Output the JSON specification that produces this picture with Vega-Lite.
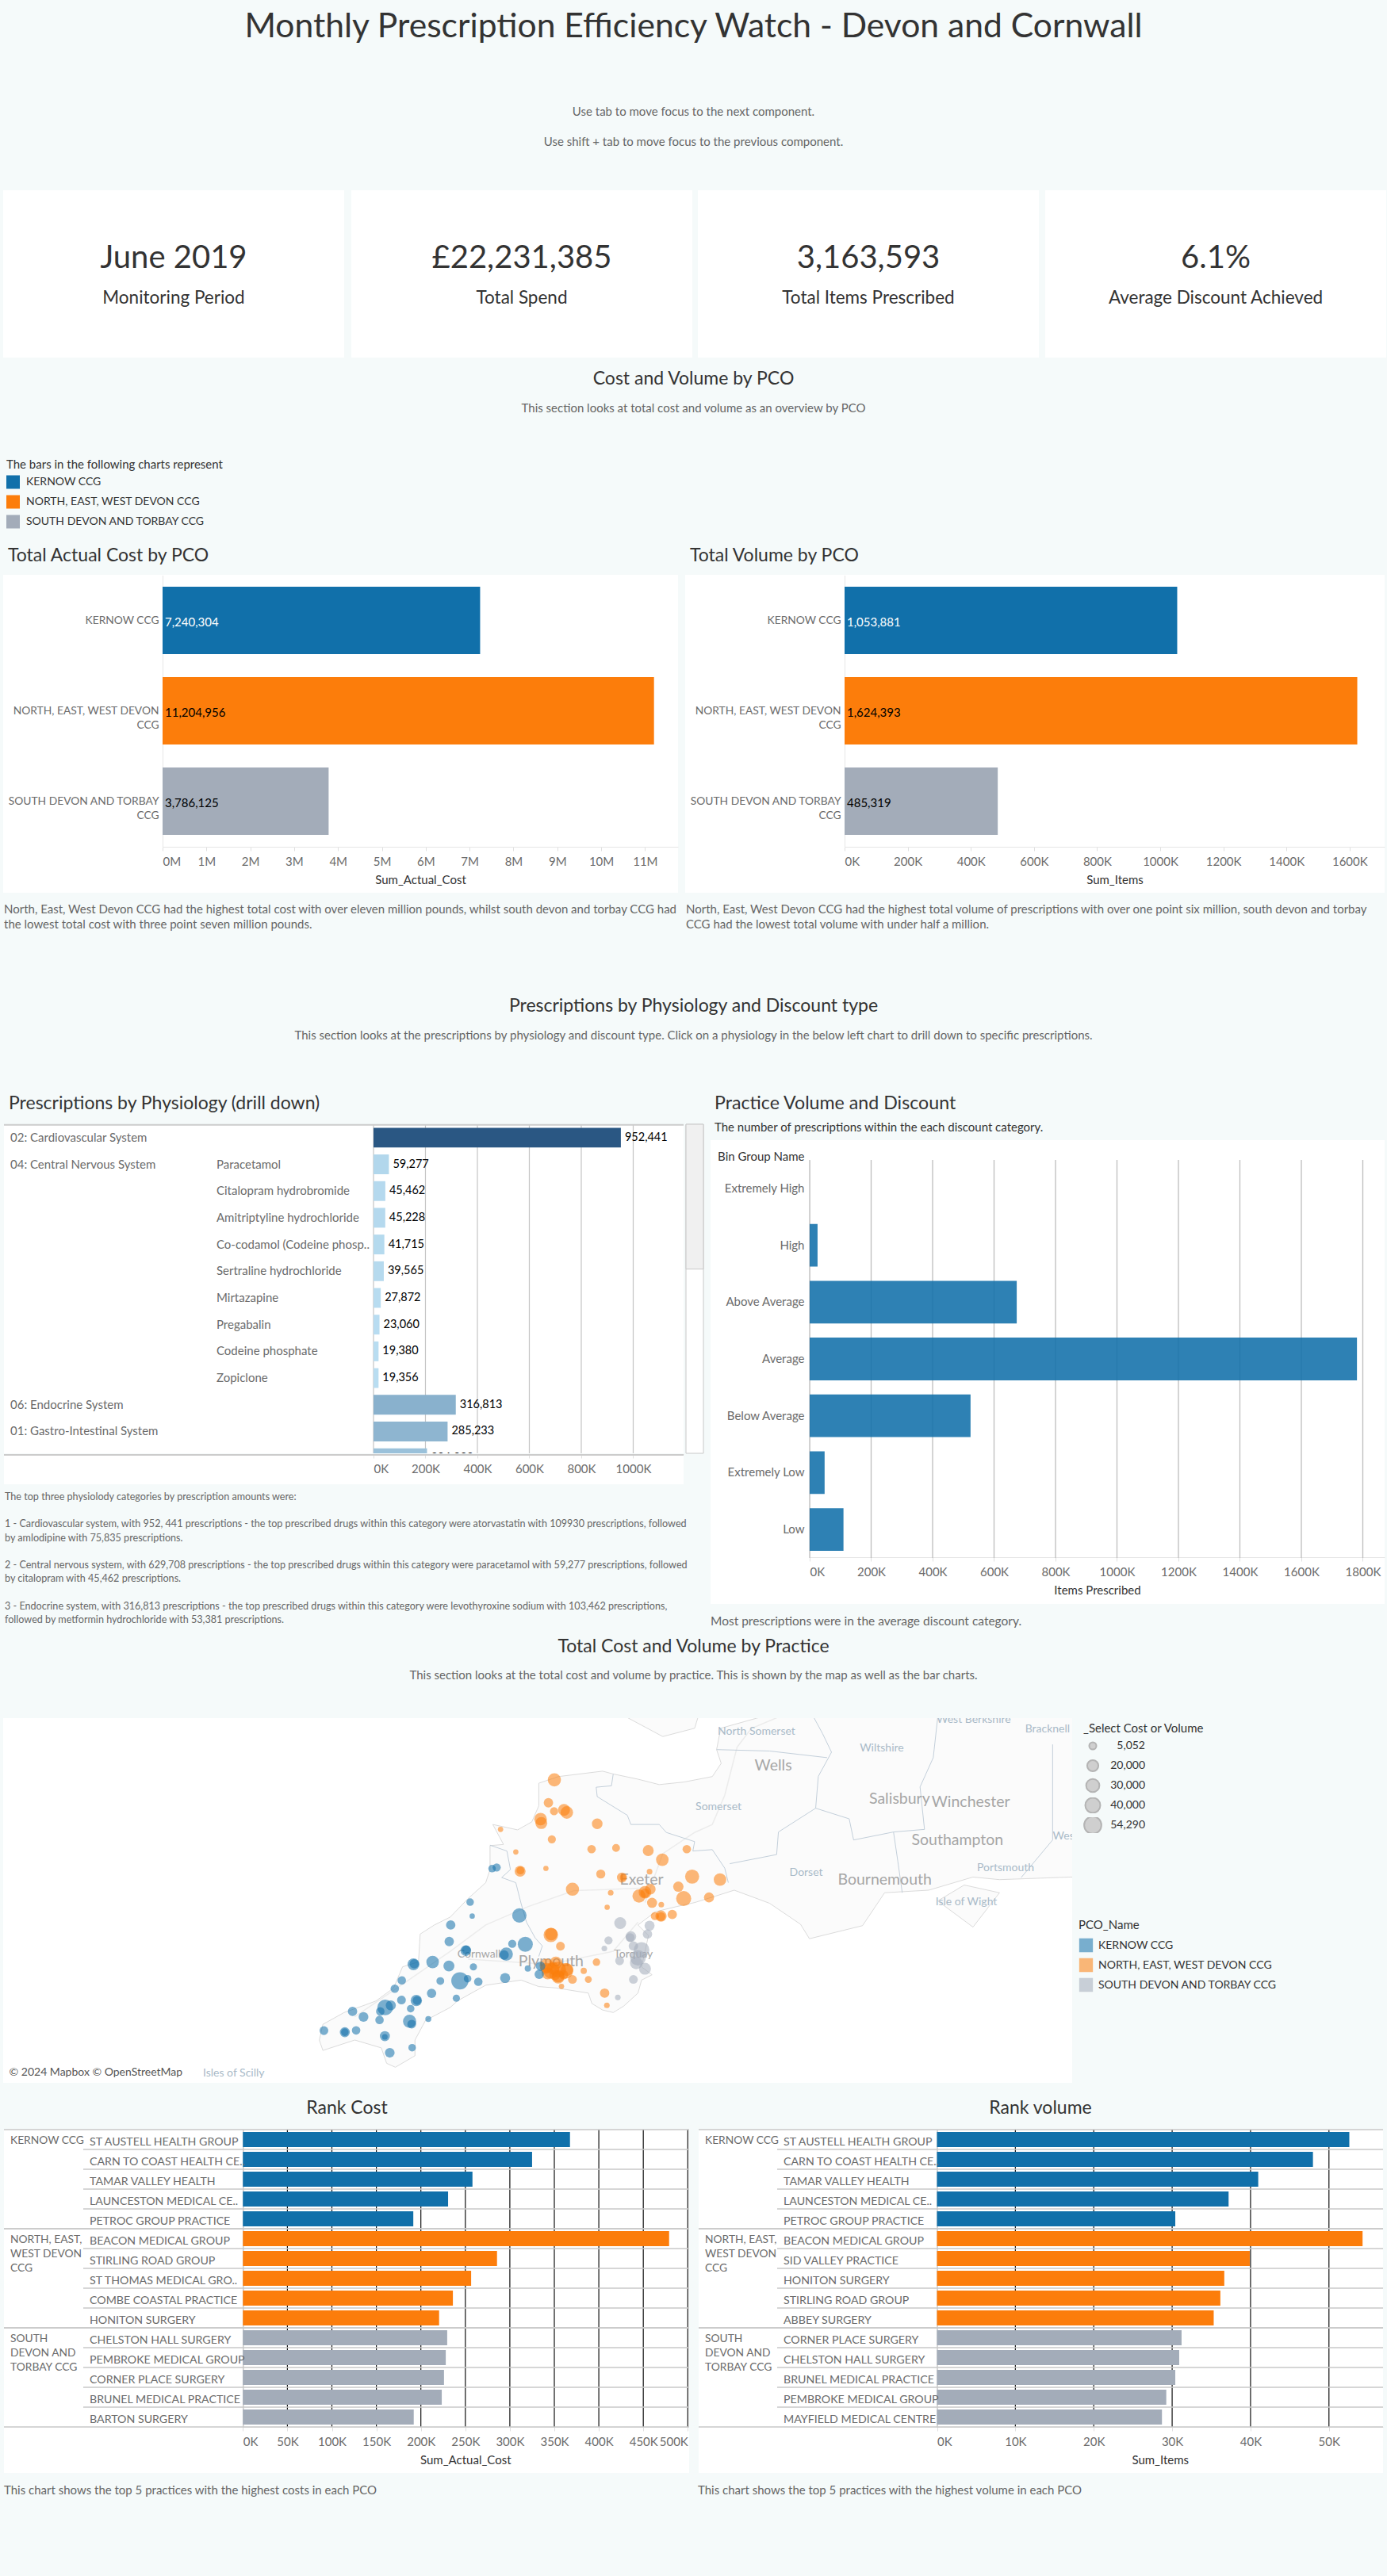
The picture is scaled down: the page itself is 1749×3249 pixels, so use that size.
{"$schema":"https://vega.github.io/schema/vega-lite/v6.json","padding":0,"background":"#f5fafa","spacing":0,"bounds":"full","resolve":{"scale":{"size":"independent"},"legend":{"size":"independent"}},
"config":{"font":"Lato","view":{"stroke":null},"concat":{"spacing":0},"range":{"category":["#1170aa","#fc7d0b","#a3acb9"]},"axis":{"labelFont":"Lato","titleFont":"Lato","labelColor":"#6b6b6b","titleColor":"#333333","titleFontWeight":"normal","labelFontSize":15,"titleFontSize":15,"tickColor":"#e0e0e0","domainColor":"#e6e6e6","labelOverlap":false,"labelFlush":true,"grid":false},"legend":{"labelFont":"Lato","titleFont":"Lato"}},
"datasets":{
"pco":[{"pco":"KERNOW CCG","cost":7240304,"items":1053881},{"pco":"NORTH, EAST, WEST DEVON CCG","cost":11204956,"items":1624393},{"pco":"SOUTH DEVON AND TORBAY CCG","cost":3786125,"items":485319}],
"physio":[{"row":"02: Cardiovascular System","value":952441},{"row":"Paracetamol","value":59277},{"row":"Citalopram hydrobromide","value":45462},{"row":"Amitriptyline hydrochloride","value":45228},{"row":"Co-codamol (Codeine phosp..","value":41715},{"row":"Sertraline hydrochloride","value":39565},{"row":"Mirtazapine","value":27872},{"row":"Pregabalin","value":23060},{"row":"Codeine phosphate","value":19380},{"row":"Zopiclone","value":19356},{"row":"06: Endocrine System","value":316813},{"row":"01: Gastro-Intestinal System","value":285233},{"row":"03: Respiratory System","value":206000}],
"physioLabels":[{"row":"02: Cardiovascular System","col":"group","label":"02: Cardiovascular System"},{"row":"Paracetamol","col":"group","label":"04: Central Nervous System"},{"row":"06: Endocrine System","col":"group","label":"06: Endocrine System"},{"row":"01: Gastro-Intestinal System","col":"group","label":"01: Gastro-Intestinal System"},{"row":"03: Respiratory System","col":"group","label":"03: Respiratory System"},{"row":"Paracetamol","col":"drug","label":"Paracetamol"},{"row":"Citalopram hydrobromide","col":"drug","label":"Citalopram hydrobromide"},{"row":"Amitriptyline hydrochloride","col":"drug","label":"Amitriptyline hydrochloride"},{"row":"Co-codamol (Codeine phosp..","col":"drug","label":"Co-codamol (Codeine phosp.."},{"row":"Sertraline hydrochloride","col":"drug","label":"Sertraline hydrochloride"},{"row":"Mirtazapine","col":"drug","label":"Mirtazapine"},{"row":"Pregabalin","col":"drug","label":"Pregabalin"},{"row":"Codeine phosphate","col":"drug","label":"Codeine phosphate"},{"row":"Zopiclone","col":"drug","label":"Zopiclone"}],
"physioTicks":[{"tick":0},{"tick":200000},{"tick":400000},{"tick":600000},{"tick":800000},{"tick":1000000}],
"binTicks":[{"tick":0},{"tick":200000},{"tick":400000},{"tick":600000},{"tick":800000},{"tick":1000000},{"tick":1200000},{"tick":1400000},{"tick":1600000},{"tick":1800000}],
"costTicks":[{"tick":50000},{"tick":100000},{"tick":150000},{"tick":200000},{"tick":250000},{"tick":300000},{"tick":350000},{"tick":400000},{"tick":450000},{"tick":500000}],
"itemTicks":[{"tick":10000},{"tick":20000},{"tick":30000},{"tick":40000},{"tick":50000}],
"rankCost":[{"pco":"KERNOW CCG","rank":1,"practice":"ST AUSTELL HEALTH GROUP","value":367600},{"pco":"KERNOW CCG","rank":2,"practice":"CARN TO COAST HEALTH CE..","value":325000},{"pco":"KERNOW CCG","rank":3,"practice":"TAMAR VALLEY HEALTH","value":258000},{"pco":"KERNOW CCG","rank":4,"practice":"LAUNCESTON MEDICAL CE..","value":230600},{"pco":"KERNOW CCG","rank":5,"practice":"PETROC GROUP PRACTICE","value":191500},{"pco":"NORTH, EAST, WEST DEVON CCG","rank":1,"practice":"BEACON MEDICAL GROUP","value":479000},{"pco":"NORTH, EAST, WEST DEVON CCG","rank":2,"practice":"STIRLING ROAD GROUP","value":285600},{"pco":"NORTH, EAST, WEST DEVON CCG","rank":3,"practice":"ST THOMAS MEDICAL GRO..","value":256500},{"pco":"NORTH, EAST, WEST DEVON CCG","rank":4,"practice":"COMBE COASTAL PRACTICE","value":236000},{"pco":"NORTH, EAST, WEST DEVON CCG","rank":5,"practice":"HONITON SURGERY","value":220500},{"pco":"SOUTH DEVON AND TORBAY CCG","rank":1,"practice":"CHELSTON HALL SURGERY","value":229600},{"pco":"SOUTH DEVON AND TORBAY CCG","rank":2,"practice":"PEMBROKE MEDICAL GROUP","value":228000},{"pco":"SOUTH DEVON AND TORBAY CCG","rank":3,"practice":"CORNER PLACE SURGERY","value":226000},{"pco":"SOUTH DEVON AND TORBAY CCG","rank":4,"practice":"BRUNEL MEDICAL PRACTICE","value":223500},{"pco":"SOUTH DEVON AND TORBAY CCG","rank":5,"practice":"BARTON SURGERY","value":192000}],
"rankItems":[{"pco":"KERNOW CCG","rank":1,"practice":"ST AUSTELL HEALTH GROUP","value":52600},{"pco":"KERNOW CCG","rank":2,"practice":"CARN TO COAST HEALTH CE..","value":47960},{"pco":"KERNOW CCG","rank":3,"practice":"TAMAR VALLEY HEALTH","value":40980},{"pco":"KERNOW CCG","rank":4,"practice":"LAUNCESTON MEDICAL CE..","value":37200},{"pco":"KERNOW CCG","rank":5,"practice":"PETROC GROUP PRACTICE","value":30400},{"pco":"NORTH, EAST, WEST DEVON CCG","rank":1,"practice":"BEACON MEDICAL GROUP","value":54290},{"pco":"NORTH, EAST, WEST DEVON CCG","rank":2,"practice":"SID VALLEY PRACTICE","value":39900},{"pco":"NORTH, EAST, WEST DEVON CCG","rank":3,"practice":"HONITON SURGERY","value":36650},{"pco":"NORTH, EAST, WEST DEVON CCG","rank":4,"practice":"STIRLING ROAD GROUP","value":36150},{"pco":"NORTH, EAST, WEST DEVON CCG","rank":5,"practice":"ABBEY SURGERY","value":35300},{"pco":"SOUTH DEVON AND TORBAY CCG","rank":1,"practice":"CORNER PLACE SURGERY","value":31200},{"pco":"SOUTH DEVON AND TORBAY CCG","rank":2,"practice":"CHELSTON HALL SURGERY","value":30900},{"pco":"SOUTH DEVON AND TORBAY CCG","rank":3,"practice":"BRUNEL MEDICAL PRACTICE","value":30400},{"pco":"SOUTH DEVON AND TORBAY CCG","rank":4,"practice":"PEMBROKE MEDICAL GROUP","value":29250},{"pco":"SOUTH DEVON AND TORBAY CCG","rank":5,"practice":"MAYFIELD MEDICAL CENTRE","value":28700}],
"practices":[
{"pco":"NORTH, EAST, WEST DEVON CCG","lon":-4.118,"lat":51.145,"value":29500},{"pco":"NORTH, EAST, WEST DEVON CCG","lon":-4.158,"lat":51.048,"value":12500},{"pco":"NORTH, EAST, WEST DEVON CCG","lon":-4.12,"lat":51.012,"value":8100},{"pco":"NORTH, EAST, WEST DEVON CCG","lon":-4.053,"lat":51.018,"value":23200},{"pco":"NORTH, EAST, WEST DEVON CCG","lon":-4.034,"lat":51.007,"value":26300},{"pco":"NORTH, EAST, WEST DEVON CCG","lon":-4.211,"lat":50.979,"value":26300},{"pco":"NORTH, EAST, WEST DEVON CCG","lon":-4.206,"lat":50.962,"value":23200},{"pco":"NORTH, EAST, WEST DEVON CCG","lon":-4.481,"lat":50.935,"value":500},{"pco":"NORTH, EAST, WEST DEVON CCG","lon":-4.135,"lat":50.893,"value":8100},{"pco":"NORTH, EAST, WEST DEVON CCG","lon":-3.829,"lat":50.959,"value":17600},{"pco":"NORTH, EAST, WEST DEVON CCG","lon":-3.867,"lat":50.851,"value":9200},{"pco":"NORTH, EAST, WEST DEVON CCG","lon":-3.702,"lat":50.856,"value":7100},{"pco":"NORTH, EAST, WEST DEVON CCG","lon":-3.485,"lat":50.845,"value":19000},{"pco":"NORTH, EAST, WEST DEVON CCG","lon":-4.378,"lat":50.839,"value":500},{"pco":"NORTH, EAST, WEST DEVON CCG","lon":-3.225,"lat":50.851,"value":9200},{"pco":"NORTH, EAST, WEST DEVON CCG","lon":-3.39,"lat":50.806,"value":26300},{"pco":"NORTH, EAST, WEST DEVON CCG","lon":-4.349,"lat":50.757,"value":19000},{"pco":"NORTH, EAST, WEST DEVON CCG","lon":-4.347,"lat":50.76,"value":7100},{"pco":"NORTH, EAST, WEST DEVON CCG","lon":-4.175,"lat":50.769,"value":500},{"pco":"NORTH, EAST, WEST DEVON CCG","lon":-3.805,"lat":50.745,"value":11400},{"pco":"NORTH, EAST, WEST DEVON CCG","lon":-3.476,"lat":50.755,"value":1200},{"pco":"NORTH, EAST, WEST DEVON CCG","lon":-3.662,"lat":50.73,"value":15000},{"pco":"NORTH, EAST, WEST DEVON CCG","lon":-3.655,"lat":50.73,"value":2700},{"pco":"NORTH, EAST, WEST DEVON CCG","lon":-3.189,"lat":50.734,"value":34700},{"pco":"NORTH, EAST, WEST DEVON CCG","lon":-3.001,"lat":50.721,"value":26300},{"pco":"NORTH, EAST, WEST DEVON CCG","lon":-3.282,"lat":50.691,"value":16250},{"pco":"NORTH, EAST, WEST DEVON CCG","lon":-3.996,"lat":50.68,"value":29500},{"pco":"NORTH, EAST, WEST DEVON CCG","lon":-3.738,"lat":50.665,"value":1200},{"pco":"NORTH, EAST, WEST DEVON CCG","lon":-3.507,"lat":50.667,"value":26300},{"pco":"NORTH, EAST, WEST DEVON CCG","lon":-3.547,"lat":50.651,"value":29500},{"pco":"NORTH, EAST, WEST DEVON CCG","lon":-3.471,"lat":50.68,"value":17600},{"pco":"NORTH, EAST, WEST DEVON CCG","lon":-3.507,"lat":50.663,"value":12500},{"pco":"NORTH, EAST, WEST DEVON CCG","lon":-3.246,"lat":50.64,"value":40200},{"pco":"NORTH, EAST, WEST DEVON CCG","lon":-3.075,"lat":50.645,"value":15000},{"pco":"NORTH, EAST, WEST DEVON CCG","lon":-3.459,"lat":50.622,"value":15000},{"pco":"NORTH, EAST, WEST DEVON CCG","lon":-3.397,"lat":50.614,"value":1200},{"pco":"NORTH, EAST, WEST DEVON CCG","lon":-3.762,"lat":50.603,"value":500},{"pco":"NORTH, EAST, WEST DEVON CCG","lon":-3.323,"lat":50.572,"value":12500},{"pco":"NORTH, EAST, WEST DEVON CCG","lon":-3.399,"lat":50.565,"value":20400},{"pco":"NORTH, EAST, WEST DEVON CCG","lon":-3.44,"lat":50.565,"value":8100},{"pco":"NORTH, EAST, WEST DEVON CCG","lon":-3.399,"lat":50.563,"value":10300},{"pco":"NORTH, EAST, WEST DEVON CCG","lon":-4.142,"lat":50.484,"value":36400},{"pco":"NORTH, EAST, WEST DEVON CCG","lon":-4.139,"lat":50.488,"value":26300},{"pco":"NORTH, EAST, WEST DEVON CCG","lon":-4.077,"lat":50.436,"value":10300},{"pco":"NORTH, EAST, WEST DEVON CCG","lon":-3.834,"lat":50.367,"value":6200},{"pco":"NORTH, EAST, WEST DEVON CCG","lon":-3.92,"lat":50.33,"value":2700},{"pco":"NORTH, EAST, WEST DEVON CCG","lon":-3.889,"lat":50.293,"value":4400},{"pco":"NORTH, EAST, WEST DEVON CCG","lon":-3.996,"lat":50.293,"value":10300},{"pco":"NORTH, EAST, WEST DEVON CCG","lon":-4.07,"lat":50.263,"value":500},{"pco":"NORTH, EAST, WEST DEVON CCG","lon":-3.779,"lat":50.234,"value":12500},{"pco":"NORTH, EAST, WEST DEVON CCG","lon":-3.764,"lat":50.181,"value":1200},
{"pco":"NORTH, EAST, WEST DEVON CCG","lon":-4.17,"lat":50.352,"value":34700},{"pco":"NORTH, EAST, WEST DEVON CCG","lon":-4.108,"lat":50.364,"value":26300},{"pco":"NORTH, EAST, WEST DEVON CCG","lon":-4.139,"lat":50.33,"value":44000},{"pco":"NORTH, EAST, WEST DEVON CCG","lon":-4.092,"lat":50.335,"value":44000},{"pco":"NORTH, EAST, WEST DEVON CCG","lon":-4.044,"lat":50.33,"value":44000},{"pco":"NORTH, EAST, WEST DEVON CCG","lon":-4.163,"lat":50.319,"value":23200},{"pco":"NORTH, EAST, WEST DEVON CCG","lon":-4.092,"lat":50.307,"value":26300},{"pco":"NORTH, EAST, WEST DEVON CCG","lon":-4.127,"lat":50.341,"value":26300},{"pco":"NORTH, EAST, WEST DEVON CCG","lon":-4.056,"lat":50.313,"value":12500},{"pco":"NORTH, EAST, WEST DEVON CCG","lon":-4.092,"lat":50.302,"value":26300},{"pco":"NORTH, EAST, WEST DEVON CCG","lon":-4.175,"lat":50.341,"value":19000},{"pco":"NORTH, EAST, WEST DEVON CCG","lon":-4.115,"lat":50.313,"value":19000},{"pco":"NORTH, EAST, WEST DEVON CCG","lon":-4.032,"lat":50.335,"value":26300},
{"pco":"SOUTH DEVON AND TORBAY CCG","lon":-3.674,"lat":50.535,"value":23200},{"pco":"SOUTH DEVON AND TORBAY CCG","lon":-3.476,"lat":50.524,"value":15000},{"pco":"SOUTH DEVON AND TORBAY CCG","lon":-3.49,"lat":50.488,"value":12500},{"pco":"SOUTH DEVON AND TORBAY CCG","lon":-3.602,"lat":50.477,"value":17600},{"pco":"SOUTH DEVON AND TORBAY CCG","lon":-3.607,"lat":50.473,"value":10300},{"pco":"SOUTH DEVON AND TORBAY CCG","lon":-3.753,"lat":50.461,"value":8100},{"pco":"SOUTH DEVON AND TORBAY CCG","lon":-3.781,"lat":50.426,"value":1200},{"pco":"SOUTH DEVON AND TORBAY CCG","lon":-3.585,"lat":50.437,"value":12500},{"pco":"SOUTH DEVON AND TORBAY CCG","lon":-3.53,"lat":50.42,"value":44000},{"pco":"SOUTH DEVON AND TORBAY CCG","lon":-3.554,"lat":50.386,"value":44000},{"pco":"SOUTH DEVON AND TORBAY CCG","lon":-3.566,"lat":50.364,"value":26300},{"pco":"SOUTH DEVON AND TORBAY CCG","lon":-3.678,"lat":50.373,"value":10300},{"pco":"SOUTH DEVON AND TORBAY CCG","lon":-3.507,"lat":50.339,"value":23200},{"pco":"SOUTH DEVON AND TORBAY CCG","lon":-3.585,"lat":50.293,"value":10300},{"pco":"SOUTH DEVON AND TORBAY CCG","lon":-3.69,"lat":50.215,"value":1200},
{"pco":"KERNOW CCG","lon":-5.672,"lat":50.072,"value":10300},{"pco":"KERNOW CCG","lon":-5.531,"lat":50.065,"value":15000},{"pco":"KERNOW CCG","lon":-5.531,"lat":50.065,"value":6200},{"pco":"KERNOW CCG","lon":-5.455,"lat":50.073,"value":9200},{"pco":"KERNOW CCG","lon":-5.479,"lat":50.155,"value":12500},{"pco":"KERNOW CCG","lon":-5.405,"lat":50.131,"value":13700},{"pco":"KERNOW CCG","lon":-5.297,"lat":50.118,"value":9200},{"pco":"KERNOW CCG","lon":-5.292,"lat":50.155,"value":9200},{"pco":"KERNOW CCG","lon":-5.259,"lat":50.172,"value":44000},{"pco":"KERNOW CCG","lon":-5.221,"lat":50.181,"value":15000},{"pco":"KERNOW CCG","lon":-5.261,"lat":50.048,"value":15000},{"pco":"KERNOW CCG","lon":-5.261,"lat":50.045,"value":1200},{"pco":"KERNOW CCG","lon":-5.228,"lat":49.976,"value":13700},{"pco":"KERNOW CCG","lon":-5.077,"lat":49.998,"value":6200},{"pco":"KERNOW CCG","lon":-5.094,"lat":50.112,"value":29500},{"pco":"KERNOW CCG","lon":-5.08,"lat":50.1,"value":10300},{"pco":"KERNOW CCG","lon":-4.968,"lat":50.122,"value":1950},{"pco":"KERNOW CCG","lon":-5.087,"lat":50.167,"value":6200},{"pco":"KERNOW CCG","lon":-5.149,"lat":50.204,"value":10300},{"pco":"KERNOW CCG","lon":-5.049,"lat":50.202,"value":20400},{"pco":"KERNOW CCG","lon":-5.044,"lat":50.202,"value":10300},{"pco":"KERNOW CCG","lon":-4.946,"lat":50.233,"value":12500},{"pco":"KERNOW CCG","lon":-4.779,"lat":50.212,"value":5250},{"pco":"KERNOW CCG","lon":-5.194,"lat":50.253,"value":9200},{"pco":"KERNOW CCG","lon":-5.147,"lat":50.289,"value":9200},{"pco":"KERNOW CCG","lon":-4.887,"lat":50.286,"value":7100},{"pco":"KERNOW CCG","lon":-4.755,"lat":50.287,"value":54290},{"pco":"KERNOW CCG","lon":-4.703,"lat":50.296,"value":6200},{"pco":"KERNOW CCG","lon":-4.631,"lat":50.283,"value":9200},{"pco":"KERNOW CCG","lon":-4.664,"lat":50.347,"value":5250},{"pco":"KERNOW CCG","lon":-4.45,"lat":50.299,"value":15000},{"pco":"KERNOW CCG","lon":-5.068,"lat":50.358,"value":23200},{"pco":"KERNOW CCG","lon":-5.063,"lat":50.36,"value":12500},{"pco":"KERNOW CCG","lon":-4.939,"lat":50.368,"value":26300},{"pco":"KERNOW CCG","lon":-4.829,"lat":50.351,"value":19000},{"pco":"KERNOW CCG","lon":-4.715,"lat":50.417,"value":17600},{"pco":"KERNOW CCG","lon":-4.712,"lat":50.42,"value":10300},{"pco":"KERNOW CCG","lon":-4.442,"lat":50.402,"value":29500},{"pco":"KERNOW CCG","lon":-4.457,"lat":50.398,"value":12500},{"pco":"KERNOW CCG","lon":-4.402,"lat":50.446,"value":8100},{"pco":"KERNOW CCG","lon":-4.314,"lat":50.444,"value":40200},{"pco":"KERNOW CCG","lon":-4.827,"lat":50.456,"value":12500},{"pco":"KERNOW CCG","lon":-4.817,"lat":50.527,"value":12500},{"pco":"KERNOW CCG","lon":-4.354,"lat":50.568,"value":36400},{"pco":"KERNOW CCG","lon":-4.672,"lat":50.565,"value":500},{"pco":"KERNOW CCG","lon":-4.686,"lat":50.625,"value":6200},{"pco":"KERNOW CCG","lon":-4.538,"lat":50.768,"value":6200},{"pco":"KERNOW CCG","lon":-4.507,"lat":50.773,"value":8100},{"pco":"KERNOW CCG","lon":-4.297,"lat":50.34,"value":2700},{"pco":"KERNOW CCG","lon":-4.22,"lat":50.315,"value":12500},{"pco":"KERNOW CCG","lon":-4.211,"lat":50.35,"value":12500}],
"places":[{"name":"Wells","kind":"city","lon":-2.642,"lat":51.206},{"name":"Salisbury","kind":"city","lon":-1.79,"lat":51.064},{"name":"Winchester","kind":"city","lon":-1.31,"lat":51.05},{"name":"Southampton","kind":"city","lon":-1.4,"lat":50.89},{"name":"Bournemouth","kind":"city","lon":-1.89,"lat":50.72},{"name":"Exeter","kind":"city","lon":-3.53,"lat":50.72},{"name":"Plymouth","kind":"city","lon":-4.14,"lat":50.37},{"name":"Torquay","kind":"town","lon":-3.585,"lat":50.40},{"name":"Cornwall","kind":"town","lon":-4.626,"lat":50.40},{"name":"Somerset","kind":"area","lon":-3.011,"lat":51.03},{"name":"North Somerset","kind":"area","lon":-2.755,"lat":51.35},{"name":"Wiltshire","kind":"area","lon":-1.91,"lat":51.28},{"name":"West Berkshire","kind":"area","lon":-1.29,"lat":51.40},{"name":"Bracknell Forest","kind":"area","lon":-0.68,"lat":51.36},{"name":"Portsmouth","kind":"area","lon":-1.075,"lat":50.77},{"name":"Isle of Wight","kind":"area","lon":-1.34,"lat":50.625},{"name":"Dorset","kind":"area","lon":-2.42,"lat":50.75},{"name":"Isles of Scilly","kind":"area","lon":-6.28,"lat":49.885},{"name":"West Sussex","kind":"area","lon":-0.55,"lat":50.905},{"name":"© 2024 Mapbox © OpenStreetMap","kind":"credit","lon":-7.21,"lat":49.89}]
},
"vconcat":[
{"width":1749,"height":80,"data":{"values":[{"t":"Monthly Prescription Efficiency Watch - Devon and Cornwall"}]},"mark":{"type":"text","fontSize":42.6,"color":"#333333","dy":-6},"encoding":{"text":{"field":"t"}}},
{"width":1749,"height":160,"data":{"values":[{"t":"Use tab to move focus to the next component.\nUse shift + tab to move focus to the previous component."}]},"mark":{"type":"text","fontSize":15,"color":"#666666","lineBreak":"\n","lineHeight":38,"dy":-19},"encoding":{"text":{"field":"t"}}},
{"hconcat":[
{"width":4,"height":211,"mark":{"type":"rule","opacity":0},"encoding":{}},
{"width":430,"height":211,"view":{"fill":"white"},"data":{"values":[{"v":"June 2019","l":"Monitoring Period"}]},"layer":[{"mark":{"type":"text","fontSize":40,"color":"#333333","dy":-19.5},"encoding":{"text":{"field":"v"}}},{"mark":{"type":"text","fontSize":22.5,"color":"#333333","dy":30.5},"encoding":{"text":{"field":"l"}}}]},
{"width":9,"height":211,"mark":{"type":"rule","opacity":0},"encoding":{}},
{"width":430,"height":211,"view":{"fill":"white"},"data":{"values":[{"v":"£22,231,385","l":"Total Spend"}]},"layer":[{"mark":{"type":"text","fontSize":40,"color":"#333333","dy":-19.5},"encoding":{"text":{"field":"v"}}},{"mark":{"type":"text","fontSize":22.5,"color":"#333333","dy":30.5},"encoding":{"text":{"field":"l"}}}]},
{"width":7,"height":211,"mark":{"type":"rule","opacity":0},"encoding":{}},
{"width":430,"height":211,"view":{"fill":"white"},"data":{"values":[{"v":"3,163,593","l":"Total Items Prescribed"}]},"layer":[{"mark":{"type":"text","fontSize":40,"color":"#333333","dy":-19.5},"encoding":{"text":{"field":"v"}}},{"mark":{"type":"text","fontSize":22.5,"color":"#333333","dy":30.5},"encoding":{"text":{"field":"l"}}}]},
{"width":8,"height":211,"mark":{"type":"rule","opacity":0},"encoding":{}},
{"width":430,"height":211,"view":{"fill":"white"},"data":{"values":[{"v":"6.1%","l":"Average Discount Achieved"}]},"layer":[{"mark":{"type":"text","fontSize":40,"color":"#333333","dy":-19.5},"encoding":{"text":{"field":"v"}}},{"mark":{"type":"text","fontSize":22.5,"color":"#333333","dy":30.5},"encoding":{"text":{"field":"l"}}}]}
]},
{"width":1749,"height":54,"data":{"values":[{"t":"Cost and Volume by PCO"}]},"mark":{"type":"text","fontSize":23,"color":"#333333"},"encoding":{"text":{"field":"t"}}},
{"width":1749,"height":20,"data":{"values":[{"t":"This section looks at total cost and volume as an overview by PCO"}]},"mark":{"type":"text","fontSize":15,"color":"#666666"},"encoding":{"text":{"field":"t"}}},
{"width":1749,"height":143,"data":{"name":"pcoLegend","values":[{"pco":"KERNOW CCG"},{"pco":"NORTH, EAST, WEST DEVON CCG"},{"pco":"SOUTH DEVON AND TORBAY CCG"}]},"mark":{"type":"square","opacity":0,"size":1},"encoding":{"color":{"field":"pco","type":"nominal","legend":{"orient":"none","legendX":8,"legendY":53.5,"title":"The bars in the following charts represent","titleFontSize":15,"titleFontWeight":"normal","titleColor":"#333333","titleLimit":500,"titlePadding":2,"symbolType":"square","symbolSize":289,"symbolOpacity":1,"symbolStrokeWidth":0,"labelFontSize":14,"labelColor":"#333333","labelLimit":500,"clipHeight":25,"rowPadding":0,"labelOffset":8}}}},
{"hconcat":[
{"width":860,"height":54,"data":{"values":[{"t":"Total Actual Cost by PCO"}]},"mark":{"type":"text","fontSize":23,"color":"#333333","align":"left","x":10,"dy":3},"encoding":{"text":{"field":"t"}}},
{"width":889,"height":54,"data":{"values":[{"t":"Total Volume by PCO"}]},"mark":{"type":"text","fontSize":23,"color":"#333333","align":"left","x":10,"dy":3},"encoding":{"text":{"field":"t"}}}
]},
{"hconcat":[
{"width":4,"height":401,"mark":{"type":"rule","opacity":0},"encoding":{}},
{"width":851,"height":401,"view":{"fill":"white"},"data":{"name":"pco"},"encoding":{"y":{"field":"pco","type":"nominal","sort":null,"scale":{"range":[0.5,342.5],"paddingInner":0.254,"paddingOuter":0.127},"axis":{"title":null,"offset":-201,"ticks":false,"labelPadding":5,"labelFontSize":13.8,"labelLimit":200,"labelLineHeight":18,"labelExpr":"datum.value=='NORTH, EAST, WEST DEVON CCG'?['NORTH, EAST, WEST DEVON','CCG']:datum.value=='SOUTH DEVON AND TORBAY CCG'?['SOUTH DEVON AND TORBAY','CCG']:datum.value"}}},
"layer":[{"mark":{"type":"bar"},"encoding":{"x":{"field":"cost","type":"quantitative","scale":{"domain":[0,11753000],"range":[201,851],"nice":false},"axis":{"title":"Sum_Actual_Cost","offset":-58,"values":[0,1000000,2000000,3000000,4000000,5000000,6000000,7000000,8000000,9000000,10000000,11000000],"labelExpr":"datum.value/1000000+'M'","labelPadding":6,"tickSize":5,"titlePadding":8}},"color":{"field":"pco","type":"nominal","legend":null}}},
{"mark":{"type":"text","align":"left","dx":3,"dy":2,"fontSize":15},"encoding":{"x":{"datum":0,"type":"quantitative"},"text":{"field":"cost","format":","},"color":{"condition":{"test":"datum.pco==='KERNOW CCG'","value":"white"},"value":"black"}}}]},
{"width":9,"height":401,"mark":{"type":"rule","opacity":0},"encoding":{}},
{"width":882,"height":401,"view":{"fill":"white"},"data":{"name":"pco"},"encoding":{"y":{"field":"pco","type":"nominal","sort":null,"scale":{"range":[0.5,342.5],"paddingInner":0.254,"paddingOuter":0.127},"axis":{"title":null,"offset":-201,"ticks":false,"labelPadding":5,"labelFontSize":13.8,"labelLimit":200,"labelLineHeight":18,"labelExpr":"datum.value=='NORTH, EAST, WEST DEVON CCG'?['NORTH, EAST, WEST DEVON','CCG']:datum.value=='SOUTH DEVON AND TORBAY CCG'?['SOUTH DEVON AND TORBAY','CCG']:datum.value"}}},
"layer":[{"mark":{"type":"bar"},"encoding":{"x":{"field":"items","type":"quantitative","scale":{"domain":[0,1711000],"range":[201,882],"nice":false},"axis":{"title":"Sum_Items","offset":-58,"values":[0,200000,400000,600000,800000,1000000,1200000,1400000,1600000],"labelExpr":"datum.value/1000+'K'","labelPadding":6,"tickSize":5,"titlePadding":8}},"color":{"field":"pco","type":"nominal","legend":null}}},
{"mark":{"type":"text","align":"left","dx":3,"dy":2,"fontSize":15},"encoding":{"x":{"datum":0,"type":"quantitative"},"text":{"field":"items","format":","},"color":{"condition":{"test":"datum.pco==='KERNOW CCG'","value":"white"},"value":"black"}}}]}
]},
{"hconcat":[
{"width":860,"height":61,"data":{"values":[{"t":"North, East, West Devon CCG had the highest total cost with over eleven million pounds, whilst south devon and torbay CCG had\nthe lowest total cost with three point seven million pounds."}]},"mark":{"type":"text","fontSize":15,"color":"#666666","align":"left","x":5,"lineBreak":"\n","lineHeight":19,"dy":-9.5},"encoding":{"text":{"field":"t"}}},
{"width":889,"height":61,"data":{"values":[{"t":"North, East, West Devon CCG had the highest total volume of prescriptions with over one point six million, south devon and torbay\nCCG had the lowest total volume with under half a million."}]},"mark":{"type":"text","fontSize":15,"color":"#666666","align":"left","x":5,"lineBreak":"\n","lineHeight":19,"dy":-9.5},"encoding":{"text":{"field":"t"}}}
]},
{"width":1749,"height":105,"data":{"values":[{"t":"Prescriptions by Physiology and Discount type"}]},"mark":{"type":"text","fontSize":23,"color":"#333333","dy":29.5},"encoding":{"text":{"field":"t"}}},
{"width":1749,"height":28,"data":{"values":[{"t":"This section looks at the prescriptions by physiology and discount type. Click on a physiology in the below left chart to drill down to specific prescriptions."}]},"mark":{"type":"text","fontSize":15,"color":"#666666"},"encoding":{"text":{"field":"t"}}},
{"hconcat":[
{"width":4,"height":700,"mark":{"type":"rule","opacity":0},"encoding":{}},
{"vconcat":[
{"width":880,"height":97,"data":{"values":[{"t":"Prescriptions by Physiology (drill down)"}]},"mark":{"type":"text","fontSize":23,"color":"#333333","align":"left","x":6,"dy":23.5},"encoding":{"text":{"field":"t"}}},
{"hconcat":[
{"vconcat":[
{"width":857,"height":415,"view":{"fill":"white"},"resolve":{"scale":{"x":"independent"}},
"layer":[
{"data":{"name":"physioTicks"},"mark":{"type":"rule","clip":true,"color":"#c4c4c4","strokeWidth":1.2},"encoding":{"x":{"field":"tick","type":"quantitative","scale":{"domain":[0,1194000],"range":[466,857],"nice":false},"axis":null}}},
{"data":{"name":"physio"},"mark":{"type":"bar","clip":true},"encoding":{"x":{"field":"value","type":"quantitative","scale":{"domain":[0,1194000],"range":[466,857],"nice":false},"axis":null},"y":{"field":"row","type":"nominal","sort":null,"axis":null,"scale":{"domain":["02: Cardiovascular System","Paracetamol","Citalopram hydrobromide","Amitriptyline hydrochloride","Co-codamol (Codeine phosp..","Sertraline hydrochloride","Mirtazapine","Pregabalin","Codeine phosphate","Zopiclone","06: Endocrine System","01: Gastro-Intestinal System","03: Respiratory System"],"range":[0,438],"paddingInner":0.26,"paddingOuter":0.13}},"color":{"field":"value","type":"quantitative","legend":null,"scale":{"domain":[19356,952441],"range":["#b9ddf1","#2a5783"]}}}},
{"data":{"name":"physio"},"mark":{"type":"text","clip":true,"align":"left","dx":5,"fontSize":14.5,"color":"black"},"encoding":{"x":{"field":"value","type":"quantitative","scale":{"domain":[0,1194000],"range":[466,857],"nice":false},"axis":null},"y":{"field":"row","type":"nominal","sort":null,"axis":null,"scale":{"domain":["02: Cardiovascular System","Paracetamol","Citalopram hydrobromide","Amitriptyline hydrochloride","Co-codamol (Codeine phosp..","Sertraline hydrochloride","Mirtazapine","Pregabalin","Codeine phosphate","Zopiclone","06: Endocrine System","01: Gastro-Intestinal System","03: Respiratory System"],"range":[0,438],"paddingInner":0.26,"paddingOuter":0.13}},"text":{"field":"value","format":","}}},
{"data":{"name":"physioLabels"},"mark":{"type":"text","clip":true,"align":"left","fontSize":15,"color":"#6b6b6b"},"encoding":{"x":{"field":"col","type":"nominal","axis":null,"scale":{"type":"point","domain":["group","drug"],"range":[8,268],"padding":0}},"y":{"field":"row","type":"nominal","sort":null,"axis":null,"scale":{"domain":["02: Cardiovascular System","Paracetamol","Citalopram hydrobromide","Amitriptyline hydrochloride","Co-codamol (Codeine phosp..","Sertraline hydrochloride","Mirtazapine","Pregabalin","Codeine phosphate","Zopiclone","06: Endocrine System","01: Gastro-Intestinal System","03: Respiratory System"],"range":[0,438],"paddingInner":0.26,"paddingOuter":0.13}},"text":{"field":"label"}}},
{"data":{"name":"physio"},"transform":[{"filter":"datum.row==='02: Cardiovascular System'"}],"mark":{"type":"rule","color":"#cccccc","strokeWidth":2,"yOffset":-16},"encoding":{"y":{"field":"row","type":"nominal","sort":null,"axis":null,"scale":{"domain":["02: Cardiovascular System","Paracetamol","Citalopram hydrobromide","Amitriptyline hydrochloride","Co-codamol (Codeine phosp..","Sertraline hydrochloride","Mirtazapine","Pregabalin","Codeine phosphate","Zopiclone","06: Endocrine System","01: Gastro-Intestinal System","03: Respiratory System"],"range":[0,438],"paddingInner":0.26,"paddingOuter":0.13}}}}
]},
{"width":857,"height":38,"view":{"fill":"white"},"data":{"name":"physioTicks"},"layer":[
{"mark":{"type":"rule","opacity":0},"encoding":{"x":{"field":"tick","type":"quantitative","scale":{"domain":[0,1194000],"range":[466,857],"nice":false},"axis":{"title":null,"offset":-38,"values":[0,200000,400000,600000,800000,1000000],"labelExpr":"datum.value/1000+'K'","labelPadding":6,"tickSize":5}}}},
{"mark":{"type":"rule","color":"#cccccc","strokeWidth":2},"encoding":{"y":{"value":1}}}
]}
]},
{"width":1,"height":415,"mark":{"type":"rule","opacity":0},"encoding":{}},
{"width":22,"height":415,"data":{"values":[{"from":0,"to":1,"part":"track"},{"from":0,"to":0.44,"part":"thumb"}]},"mark":{"type":"rect","stroke":"#c8c8c8"},"encoding":{"y":{"field":"from","type":"quantitative","scale":{"domain":[0,1],"range":[0,415]},"axis":null},"y2":{"field":"to"},"fill":{"field":"part","type":"nominal","legend":null,"scale":{"domain":["track","thumb"],"range":["#ffffff","#f0f0f0"]}}}}
]},
{"width":880,"height":182,"data":{"values":[{"line":0,"t":"The top three physiolody categories by prescription amounts were:"},{"line":2,"t":"1 - Cardiovascular system, with 952, 441 prescriptions - the top prescribed drugs within this category were atorvastatin with 109930 prescriptions, followed"},{"line":3,"t":"by amlodipine with 75,835 prescriptions."},{"line":5,"t":"2 - Central nervous system, with 629,708 prescriptions - the top prescribed drugs within this category were paracetamol with 59,277 prescriptions, followed"},{"line":6,"t":"by citalopram with 45,462 prescriptions."},{"line":8,"t":"3 - Endocrine system, with 316,813 prescriptions - the top prescribed drugs within this category were levothyroxine sodium with 103,462 prescriptions,"},{"line":9,"t":"followed by metformin hydrochloride with 53,381 prescriptions."}]},"mark":{"type":"text","fontSize":12.6,"color":"#666666","align":"left","x":1},"encoding":{"y":{"field":"line","type":"ordinal","axis":null,"scale":{"type":"point","domain":[0,1,2,3,4,5,6,7,8,9],"range":[16,171],"padding":0}},"text":{"field":"t"}}}
]},
{"width":8,"height":700,"mark":{"type":"rule","opacity":0},"encoding":{}},
{"vconcat":[
{"width":850,"height":92,"data":{"values":[{"t":"Practice Volume and Discount"}]},"mark":{"type":"text","fontSize":23.2,"color":"#333333","align":"left","x":5,"dy":26},"encoding":{"text":{"field":"t"}}},
{"width":850,"height":26,"data":{"values":[{"t":"The number of prescriptions within the each discount category."}]},"mark":{"type":"text","fontSize":15,"color":"#333333","align":"left","x":5,"dy":-3},"encoding":{"text":{"field":"t"}}},
{"width":850,"height":585,"view":{"fill":"white"},"encoding":{"y":{"field":"bin","type":"nominal","sort":null,"scale":{"range":[25,527],"paddingInner":0.25,"paddingOuter":0.125,"domain":["Extremely High","High","Above Average","Average","Below Average","Extremely Low","Low"]},"axis":{"title":"Bin Group Name","titleAngle":0,"titleAlign":"right","titleBaseline":"middle","titleX":-7,"titleY":20,"offset":-125,"ticks":false,"labelPadding":7,"labelLimit":200}}},"layer":[
{"data":{"name":"binTicks"},"mark":{"type":"rule","color":"#bdbdbd","strokeWidth":1.3},"encoding":{"x":{"field":"tick","type":"quantitative","scale":{"domain":[0,1871000],"range":[125,850],"nice":false}},"y":{"value":25},"y2":{"value":527}}},
{"data":{"values":[{"bin":"Extremely High","items":0},{"bin":"High","items":25700},{"bin":"Above Average","items":673800},{"bin":"Average","items":1781000},{"bin":"Below Average","items":523500},{"bin":"Extremely Low","items":48600},{"bin":"Low","items":110000}]},"mark":{"type":"bar","color":"#1170aa","opacity":0.88},"encoding":{"x":{"field":"items","type":"quantitative","scale":{"domain":[0,1871000],"range":[125,850],"nice":false},"axis":{"title":"Items Prescribed","offset":-59,"values":[0,200000,400000,600000,800000,1000000,1200000,1400000,1600000,1800000],"labelExpr":"datum.value/1000+'K'","labelPadding":6,"tickSize":5,"titlePadding":8}}}}
]},
{"width":850,"height":32,"data":{"values":[{"t":"Most prescriptions were in the average discount category."}]},"mark":{"type":"text","fontSize":15.5,"color":"#666666","align":"left","x":0,"dy":6},"encoding":{"text":{"field":"t"}}}
]}
]},
{"width":1749,"height":47,"data":{"values":[{"t":"Total Cost and Volume by Practice"}]},"mark":{"type":"text","fontSize":23,"color":"#333333","dy":-1.5},"encoding":{"text":{"field":"t"}}},
{"width":1749,"height":65,"data":{"values":[{"t":"This section looks at the total cost and volume by practice. This is shown by the map as well as the bar charts."}]},"mark":{"type":"text","fontSize":15,"color":"#666666","dy":-21.5},"encoding":{"text":{"field":"t"}}},
{"resolve":{"scale":{"size":"independent"},"legend":{"size":"independent"}},"hconcat":[
{"width":4,"height":460,"mark":{"type":"rule","opacity":0},"encoding":{}},
{"width":1348,"height":460,"view":{"fill":"white"},"projection":{"type":"mercator","scale":10714,"center":[-3.53,50.72],"translate":[805,204]},
"layer":[
{"data":{"values":[
{"type":"Feature","properties":{"name":"South West and South England"},"geometry":{"type":"Polygon","coordinates":[[[-5.703,50.031],[-5.679,50.099],[-5.536,50.15],[-5.393,50.183],[-5.321,50.2],[-5.202,50.256],[-5.142,50.347],[-5.034,50.369],[-5.023,50.488],[-4.927,50.527],[-4.82,50.561],[-4.7,50.64],[-4.581,50.708],[-4.552,50.764],[-4.552,50.866],[-4.461,50.871],[-4.533,50.956],[-4.366,50.933],[-4.27,50.967],[-4.223,51.035],[-4.223,51.131],[-4.091,51.159],[-3.793,51.182],[-3.721,51.17],[-3.554,51.148],[-3.411,51.125],[-3.244,51.136],[-3.053,51.159],[-2.993,51.215],[-3.024,51.273],[-2.996,51.363],[-2.728,51.41],[-2.72,51.46],[-0.5,51.46],[-0.5,50.73],[-0.638,50.732],[-1.116,50.721],[-1.295,50.732],[-1.593,50.676],[-1.891,50.665],[-1.951,50.608],[-2.04,50.524],[-2.398,50.468],[-2.458,50.53],[-2.667,50.62],[-2.905,50.676],[-3.029,50.651],[-3.172,50.623],[-3.292,50.606],[-3.435,50.584],[-3.554,50.527],[-3.483,50.482],[-3.53,50.347],[-3.459,50.313],[-3.53,50.29],[-3.554,50.234],[-3.65,50.178],[-3.721,50.15],[-3.793,50.161],[-3.865,50.189],[-3.889,50.234],[-3.996,50.245],[-4.103,50.256],[-4.223,50.262],[-4.342,50.29],[-4.581,50.268],[-4.772,50.2],[-4.82,50.172],[-4.987,50.116],[-5.058,50.031],[-5.058,49.963],[-5.19,49.913],[-5.249,49.93],[-5.285,49.997],[-5.464,50.031],[-5.679,49.986],[-5.703,50.031]]]}},
{"type":"Feature","properties":{"name":"Isle of Wight"},"geometry":{"type":"Polygon","coordinates":[[[-1.533,50.63],[-1.354,50.698],[-1.116,50.665],[-1.295,50.518],[-1.533,50.63]]]}},
{"type":"Feature","properties":{"name":"South Wales"},"geometry":{"type":"Polygon","coordinates":[[[-3.638,51.412],[-3.64,51.46],[-3.1,51.46],[-3.148,51.412],[-3.172,51.363],[-3.387,51.328],[-3.638,51.412]]]}}
]},"mark":{"type":"geoshape","clip":true,"fill":"#fbfbfb","stroke":"#d2d2d2","strokeWidth":0.8}},
{"data":{"values":[
{"type":"Feature","properties":{"name":"M5"},"geometry":{"type":"LineString","coordinates":[[-3.507,50.623],[-3.387,50.832],[-3.172,50.922],[-3.053,50.956],[-2.969,51.08],[-2.886,51.283],[-2.79,51.362],[-2.6,51.412]]}},
{"type":"Feature","properties":{"name":"A30"},"geometry":{"type":"LineString","coordinates":[[-3.507,50.685],[-3.984,50.674],[-4.294,50.606],[-4.581,50.527],[-4.82,50.414],[-5.178,50.256],[-5.464,50.132]]}},
{"type":"Feature","properties":{"name":"A38"},"geometry":{"type":"LineString","coordinates":[[-3.554,50.539],[-3.721,50.414],[-4.151,50.358],[-4.7,50.38]]}}
]},"mark":{"type":"geoshape","clip":true,"filled":false,"stroke":"#ececec","strokeWidth":1.5}},
{"data":{"values":[
{"type":"Feature","properties":{"name":"Cornwall-Devon"},"geometry":{"type":"LineString","coordinates":[[-4.552,50.868],[-4.438,50.843],[-4.414,50.764],[-4.473,50.73],[-4.378,50.708],[-4.342,50.618],[-4.306,50.539],[-4.247,50.471],[-4.199,50.437],[-4.223,50.392]]}},
{"type":"Feature","properties":{"name":"Devon-Somerset"},"geometry":{"type":"LineString","coordinates":[[-3.721,51.17],[-3.733,51.12],[-3.836,51.114],[-3.829,51.074],[-3.626,50.995],[-3.602,50.956],[-3.411,50.956],[-3.363,50.922],[-3.172,50.883],[-3.184,50.843],[-3.053,50.849],[-2.969,50.77],[-2.945,50.708]]}},
{"type":"Feature","properties":{"name":"Somerset-Wiltshire"},"geometry":{"type":"LineString","coordinates":[[-2.935,50.789],[-2.619,50.828],[-2.607,50.924],[-2.356,51.025],[-2.338,51.16],[-2.249,51.262],[-2.309,51.34],[-2.368,51.408]]}},
{"type":"Feature","properties":{"name":"Dorset-Hampshire"},"geometry":{"type":"LineString","coordinates":[[-2.356,51.025],[-2.13,50.98],[-2.1,50.89],[-1.831,50.924],[-1.622,50.935],[-1.652,51.115],[-1.563,51.239],[-1.533,51.408]]}},
{"type":"Feature","properties":{"name":"Bournemouth"},"geometry":{"type":"LineString","coordinates":[[-1.831,50.924],[-1.802,50.8],[-1.772,50.665]]}},
{"type":"Feature","properties":{"name":"North Somerset"},"geometry":{"type":"LineString","coordinates":[[-3.024,51.273],[-2.667,51.267],[-2.279,51.239]]}},
{"type":"Feature","properties":{"name":"Hampshire-Sussex"},"geometry":{"type":"LineString","coordinates":[[-0.97,50.73],[-0.758,50.89],[-0.758,51.295]]}}
]},"mark":{"type":"geoshape","clip":true,"filled":false,"stroke":"#bccad6","strokeWidth":0.9}},
{"data":{"name":"places"},"transform":[{"filter":"datum.kind==='city'"}],"mark":{"type":"text","clip":true,"fontSize":19.5,"color":"#a6a6a6"},"encoding":{"longitude":{"field":"lon","type":"quantitative"},"latitude":{"field":"lat","type":"quantitative"},"text":{"field":"name"}}},
{"data":{"name":"places"},"transform":[{"filter":"datum.kind==='town'"}],"mark":{"type":"text","clip":true,"fontSize":14,"color":"#a6a6a6"},"encoding":{"longitude":{"field":"lon","type":"quantitative"},"latitude":{"field":"lat","type":"quantitative"},"text":{"field":"name"}}},
{"data":{"name":"places"},"transform":[{"filter":"datum.kind==='area'"}],"mark":{"type":"text","clip":true,"fontSize":14,"color":"#a9bac8"},"encoding":{"longitude":{"field":"lon","type":"quantitative"},"latitude":{"field":"lat","type":"quantitative"},"text":{"field":"name"}}},
{"data":{"name":"places"},"transform":[{"filter":"datum.kind==='credit'"}],"mark":{"type":"text","clip":true,"fontSize":14,"color":"#555555"},"encoding":{"longitude":{"field":"lon","type":"quantitative"},"latitude":{"field":"lat","type":"quantitative"},"text":{"field":"name"}}},
{"data":{"name":"practices"},"mark":{"type":"circle","opacity":0.55,"clip":true},"encoding":{"longitude":{"field":"lon","type":"quantitative"},"latitude":{"field":"lat","type":"quantitative"},"size":{"field":"value","type":"quantitative","scale":{"domain":[0,54290],"range":[41,473]},"legend":{"orient":"none","legendX":1362,"legendY":6,"title":"_Select Cost or Volume","titleFontSize":15,"titleFontWeight":"normal","titleColor":"#333333","titleLimit":300,"titlePadding":4,"values":[5052,20000,30000,40000,54290],"labelExpr":"format(datum.value,',')","symbolFillColor":"#cfcfcf","symbolStrokeColor":"#b4b4b4","symbolStrokeWidth":2,"symbolOpacity":1,"labelFontSize":14,"labelColor":"#333333","clipHeight":20,"rowPadding":5,"labelAlign":"right","labelOffset":54}},"color":{"field":"pco","type":"nominal","legend":{"orient":"none","legendX":1360,"legendY":254,"title":"PCO_Name","titleFontSize":15,"titleFontWeight":"normal","titleColor":"#333333","symbolType":"square","symbolSize":300,"symbolOpacity":0.55,"labelFontSize":14,"labelColor":"#333333","labelLimit":500,"clipHeight":25,"rowPadding":0,"labelOffset":6}}}}
]}
]},
{"hconcat":[
{"width":875,"height":58,"data":{"values":[{"t":"Rank Cost"}]},"mark":{"type":"text","fontSize":23,"color":"#333333","dy":3},"encoding":{"text":{"field":"t"}}},
{"width":874,"height":58,"data":{"values":[{"t":"Rank volume"}]},"mark":{"type":"text","fontSize":23,"color":"#333333","dy":3},"encoding":{"text":{"field":"t"}}}
]},
{"hconcat":[
{"width":4,"height":433,"mark":{"type":"rule","opacity":0},"encoding":{}},
{"width":864,"height":433,"view":{"fill":"white"},"resolve":{"scale":{"x":"independent"}},
"encoding":{"y":{"field":"practice","type":"nominal","sort":null,"scale":{"domain":["ST AUSTELL HEALTH GROUP","CARN TO COAST HEALTH CE..","TAMAR VALLEY HEALTH","LAUNCESTON MEDICAL CE..","PETROC GROUP PRACTICE","BEACON MEDICAL GROUP","STIRLING ROAD GROUP","ST THOMAS MEDICAL GRO..","COMBE COASTAL PRACTICE","HONITON SURGERY","CHELSTON HALL SURGERY","PEMBROKE MEDICAL GROUP","CORNER PLACE SURGERY","BRUNEL MEDICAL PRACTICE","BARTON SURGERY"],"range":[0,375],"paddingInner":0.24,"paddingOuter":0.12},"axis":{"title":null,"labels":false,"ticks":false,"offset":-301.3,"domainColor":"#c8c8c8","domainWidth":1.5}}},
"layer":[
{"data":{"name":"costTicks"},"mark":{"type":"rule","color":"#111111","strokeWidth":1.2},"encoding":{"x":{"field":"tick","type":"quantitative","axis":null,"scale":{"domain":[0,500000],"range":[301.3,862.3],"nice":false}},"y":{"value":0},"y2":{"value":375}}},
{"data":{"name":"rankCost"},"mark":{"type":"bar"},"encoding":{"x":{"field":"value","type":"quantitative","scale":{"domain":[0,500000],"range":[301.3,862.3],"nice":false},"axis":{"title":"Sum_Actual_Cost","offset":-58,"values":[0,50000,100000,150000,200000,250000,300000,350000,400000,450000,500000],"labelExpr":"datum.value/1000+'K'","labelPadding":6,"tickSize":5,"titlePadding":8}},"color":{"field":"pco","type":"nominal","legend":null}}},
{"data":{"name":"rankCost"},"transform":[{"filter":"datum.rank<5"}],"mark":{"type":"rule","color":"#c8c8c8","strokeWidth":1.5,"yOffset":12.5},"encoding":{"x":{"datum":"practice","type":"nominal","axis":null,"scale":{"type":"point","domain":["group","practice"],"range":[8,100],"padding":0}},"x2":{"value":864}}},
{"data":{"name":"rankCost"},"transform":[{"filter":"datum.rank==1"}],"mark":{"type":"rule","color":"#c8c8c8","strokeWidth":1.5,"yOffset":-12.5}},
{"data":{"name":"rankCost"},"transform":[{"filter":"datum.rank==5"}],"mark":{"type":"rule","color":"#c8c8c8","strokeWidth":1.5,"yOffset":12.5}},
{"data":{"name":"rankCost"},"mark":{"type":"text","align":"left","dx":8,"dy":3,"fontSize":14.2,"color":"#6b6b6b"},"encoding":{"x":{"datum":"practice","type":"nominal","axis":null,"scale":{"type":"point","domain":["group","practice"],"range":[8,100],"padding":0}},"text":{"field":"practice"}}},
{"data":{"values":[{"practice":"ST AUSTELL HEALTH GROUP","label":"KERNOW CCG"},{"practice":"BEACON MEDICAL GROUP","label":"NORTH, EAST,\nWEST DEVON\nCCG"},{"practice":"CHELSTON HALL SURGERY","label":"SOUTH\nDEVON AND\nTORBAY CCG"}]},"mark":{"type":"text","align":"left","baseline":"top","dy":-5.5,"fontSize":13.8,"color":"#6b6b6b","lineBreak":"\n","lineHeight":18},"encoding":{"x":{"datum":"group","type":"nominal","axis":null,"scale":{"type":"point","domain":["group","practice"],"range":[8,100],"padding":0}},"text":{"field":"label"}}}
]},
{"width":10,"height":433,"mark":{"type":"rule","opacity":0},"encoding":{}},
{"width":863,"height":433,"view":{"fill":"white"},"resolve":{"scale":{"x":"independent"}},
"encoding":{"y":{"field":"practice","type":"nominal","sort":null,"scale":{"domain":["ST AUSTELL HEALTH GROUP","CARN TO COAST HEALTH CE..","TAMAR VALLEY HEALTH","LAUNCESTON MEDICAL CE..","PETROC GROUP PRACTICE","BEACON MEDICAL GROUP","SID VALLEY PRACTICE","HONITON SURGERY","STIRLING ROAD GROUP","ABBEY SURGERY","CORNER PLACE SURGERY","CHELSTON HALL SURGERY","BRUNEL MEDICAL PRACTICE","PEMBROKE MEDICAL GROUP","MAYFIELD MEDICAL CENTRE"],"range":[0,375],"paddingInner":0.24,"paddingOuter":0.12},"axis":{"title":null,"labels":false,"ticks":false,"offset":-300.5,"domainColor":"#c8c8c8","domainWidth":1.5}}},
"layer":[
{"data":{"name":"itemTicks"},"mark":{"type":"rule","color":"#111111","strokeWidth":1.2},"encoding":{"x":{"field":"tick","type":"quantitative","axis":null,"scale":{"domain":[0,56900],"range":[300.5,863],"nice":false}},"y":{"value":0},"y2":{"value":375}}},
{"data":{"name":"rankItems"},"mark":{"type":"bar"},"encoding":{"x":{"field":"value","type":"quantitative","scale":{"domain":[0,56900],"range":[300.5,863],"nice":false},"axis":{"title":"Sum_Items","offset":-58,"values":[0,10000,20000,30000,40000,50000],"labelExpr":"datum.value/1000+'K'","labelPadding":6,"tickSize":5,"titlePadding":8}},"color":{"field":"pco","type":"nominal","legend":null}}},
{"data":{"name":"rankItems"},"transform":[{"filter":"datum.rank<5"}],"mark":{"type":"rule","color":"#c8c8c8","strokeWidth":1.5,"yOffset":12.5},"encoding":{"x":{"datum":"practice","type":"nominal","axis":null,"scale":{"type":"point","domain":["group","practice"],"range":[8,99],"padding":0}},"x2":{"value":863}}},
{"data":{"name":"rankItems"},"transform":[{"filter":"datum.rank==1"}],"mark":{"type":"rule","color":"#c8c8c8","strokeWidth":1.5,"yOffset":-12.5}},
{"data":{"name":"rankItems"},"transform":[{"filter":"datum.rank==5"}],"mark":{"type":"rule","color":"#c8c8c8","strokeWidth":1.5,"yOffset":12.5}},
{"data":{"name":"rankItems"},"mark":{"type":"text","align":"left","dx":8,"dy":3,"fontSize":14.2,"color":"#6b6b6b"},"encoding":{"x":{"datum":"practice","type":"nominal","axis":null,"scale":{"type":"point","domain":["group","practice"],"range":[8,99],"padding":0}},"text":{"field":"practice"}}},
{"data":{"values":[{"practice":"ST AUSTELL HEALTH GROUP","label":"KERNOW CCG"},{"practice":"BEACON MEDICAL GROUP","label":"NORTH, EAST,\nWEST DEVON\nCCG"},{"practice":"CORNER PLACE SURGERY","label":"SOUTH\nDEVON AND\nTORBAY CCG"}]},"mark":{"type":"text","align":"left","baseline":"top","dy":-5.5,"fontSize":13.8,"color":"#6b6b6b","lineBreak":"\n","lineHeight":18},"encoding":{"x":{"datum":"group","type":"nominal","axis":null,"scale":{"type":"point","domain":["group","practice"],"range":[8,99],"padding":0}},"text":{"field":"label"}}}
]}
]},
{"hconcat":[
{"width":875,"height":44,"data":{"values":[{"t":"This chart shows the top 5 practices with the highest costs in each PCO"}]},"mark":{"type":"text","fontSize":15,"color":"#666666","align":"left","x":5},"encoding":{"text":{"field":"t"}}},
{"width":874,"height":44,"data":{"values":[{"t":"This chart shows the top 5 practices with the highest volume in each PCO"}]},"mark":{"type":"text","fontSize":15,"color":"#666666","align":"left","x":5},"encoding":{"text":{"field":"t"}}}
]},
{"width":1749,"height":89,"mark":{"type":"rule","opacity":0},"encoding":{}}
]}
